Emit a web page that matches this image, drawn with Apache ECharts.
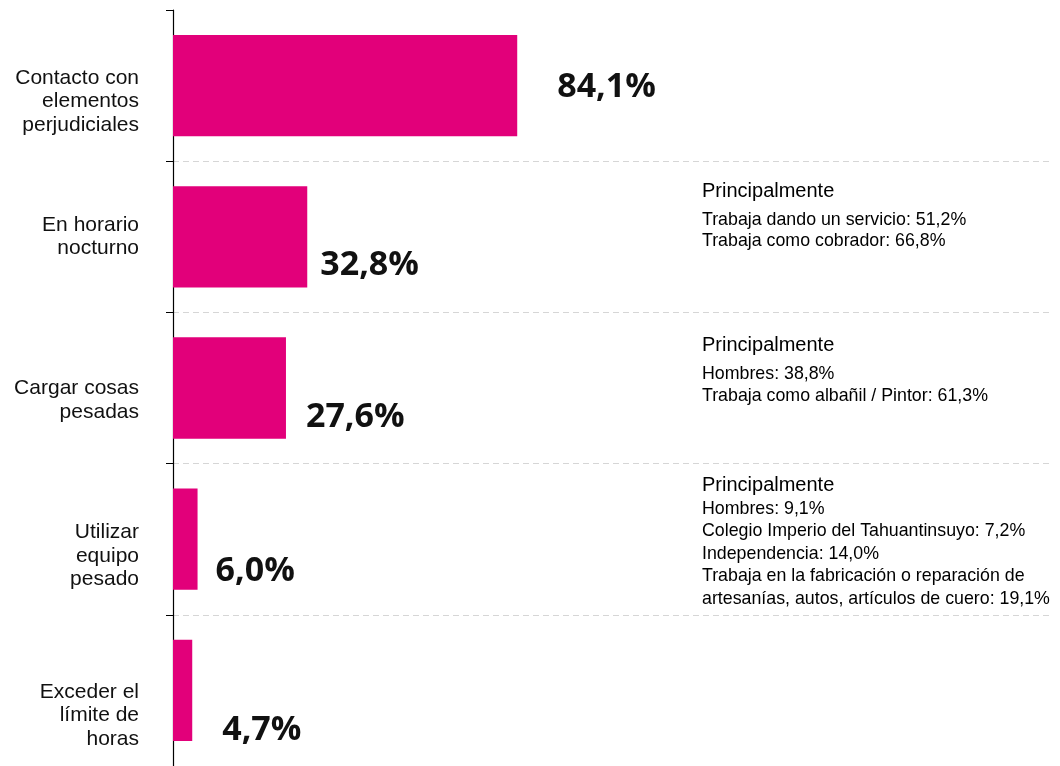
<!DOCTYPE html>
<html>
<head>
<meta charset="utf-8">
<script src="https://cdn.jsdelivr.net/npm/echarts@6/dist/echarts.min.js"></script>
<style>html,body{margin:0;padding:0;background:#fff}#c{width:1060px;height:766px}</style>
</head>
<body>
<div id="c"></div>
<script>
var categories = ['Contacto con\nelementos\nperjudiciales', 'En horario\nnocturno', 'Cargar cosas\npesadas', 'Utilizar\nequipo\npesado', 'Exceder el\nlímite de\nhoras'];
var values = [84.1, 32.8, 27.6, 6.0, 4.7];
var annotationTitle = 'Principalmente';
var annotations2 = ['Trabaja dando un servicio: 51,2%', 'Trabaja como cobrador: 66,8%'];
var annotations3 = ['Hombres: 38,8%', 'Trabaja como albañil / Pintor: 61,3%'];
var annotations4 = ['Hombres: 9,1%', 'Colegio Imperio del Tahuantinsuyo: 7,2%', 'Independencia: 14,0%', 'Trabaja en la fabricación o reparación de', 'artesanías, autos, artículos de cuero: 19,1%'];

// style-only tweaks (label placement)
var labelOffsets = [[40, 2], [13, 29], [20, 29], [18, 32], [30, 40]];
var categoryShifts = [16, 0, 12, 17, 25];

var chart = echarts.init(document.getElementById('c'));

var annFont = '"Liberation Sans", Arial, sans-serif';
function annBlock(lines, top, titleLH, subLH) {
  return {
    type: 'text', left: 702, top: top,
    style: {
      text: '{h|' + annotationTitle + '}\n' + lines.map(function (l) { return '{b|' + l + '}'; }).join('\n'),
      rich: {
        h: { fontSize: 20, fontFamily: annFont, color: '#111', lineHeight: titleLH },
        b: { fontSize: 17.8, fontFamily: annFont, color: '#111', lineHeight: subLH }
      }
    }
  };
}

chart.setOption({
  animation: false,
  grid: { left: 173, right: 7, top: 10, bottom: 0 },
  xAxis: { type: 'value', min: 0, max: 215, show: false },
  yAxis: {
    type: 'category', inverse: true, data: categories,
    axisLine: { show: true, lineStyle: { color: '#000', width: 1.2 } },
    axisTick: { show: true, length: 7, lineStyle: { color: '#000' } },
    axisLabel: { show: false },
    splitLine: { show: true, lineStyle: { type: [6, 4], color: ['rgba(0,0,0,0)', '#d6d6d6', '#d6d6d6', '#d6d6d6', '#d6d6d6', '#d6d6d6'] } }
  },
  series: [{
    type: 'bar',
    barCategoryGap: '33%',
    itemStyle: { color: '#E2007A' },
    data: values.map(function (v, i) {
      return { value: v, label: { offset: labelOffsets[i] } };
    }),
    label: {
      show: true, position: 'right', distance: 0,
      fontFamily: '"Open Sans"', fontWeight: 'bold', fontSize: 34, color: '#111',
      formatter: function (p) { return p.value.toFixed(1).replace('.', ',') + '%'; }
    }
  }]
});

var graphics = categories.map(function (c, i) {
  var y = chart.convertToPixel({ yAxisIndex: 0 }, c);
  return {
    type: 'text', x: 139, y: y + categoryShifts[i],
    style: { text: c, fontSize: 21, lineHeight: 23.5, fontFamily: annFont, fill: '#111', align: 'right', verticalAlign: 'middle' }
  };
});
graphics.push(
  annBlock(annotations2, 181, 36, 21.7),
  annBlock(annotations3, 335, 36, 22),
  annBlock(annotations4, 475, 26, 22.4)
);
chart.setOption({ graphic: graphics });
</script>
</body>
</html>
